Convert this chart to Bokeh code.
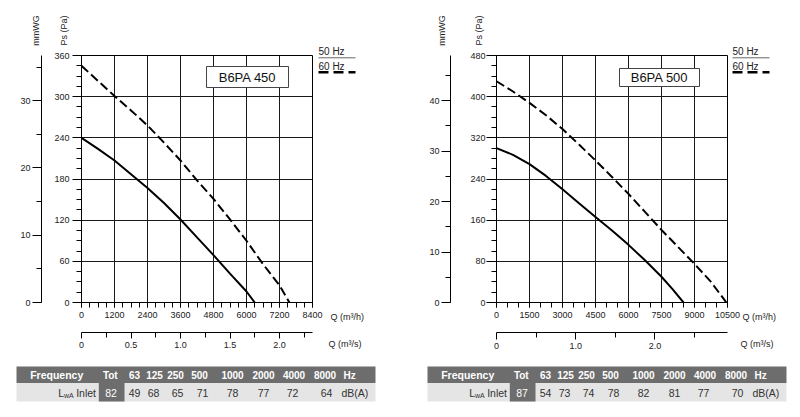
import math
from bokeh.plotting import figure
from bokeh.models import (Range1d, LinearAxis, SingleIntervalTicker, FixedTicker,
                          BoxAnnotation, CustomJSTickFormatter, ColumnDataSource)
from bokeh.layouts import row, column
from bokeh.embed import file_html
from bokeh.resources import INLINE
from bokeh.core.properties import value

FONT = "Liberation Sans"

# ---------------- data ----------------
# B6PA 450
q50_450 = [0, 600, 1200, 1800, 2400, 3000, 3600, 4200, 4800, 5400, 6000, 6300]
p50_450 = [240, 224, 207, 187, 167, 145, 121, 95, 69, 42, 16, 0]
q60_450 = [0, 600, 1200, 1800, 2400, 3000, 3600, 4200, 4800, 5400, 6000, 6600, 7200, 7560]
p60_450 = [345, 323, 301, 280, 258, 233, 207, 178, 151, 121, 90, 56, 25, 0]
# B6PA 500
q50_500 = [0, 750, 1500, 2250, 3000, 3750, 4500, 5250, 6000, 6750, 7500, 8000, 8500]
p50_500 = [300, 287, 269, 246, 220, 193, 166, 140, 112, 82, 50, 26, 0]
q60_500 = [0, 750, 1500, 2250, 3000, 3750, 4500, 5250, 6000, 6750, 7500, 8250, 9000, 9750, 10450]
p60_500 = [430, 410, 388, 364, 337, 307, 276, 244, 211, 176, 141, 108, 75, 40, 0]

freq_bands = ["63", "125", "250", "500", "1000", "2000", "4000", "8000"]
tot_450 = 82
lwa_450 = [49, 68, 65, 71, 78, 77, 72, 64]
tot_500 = 87
lwa_500 = [54, 73, 74, 78, 82, 81, 77, 70]

MMWG_PER_PA = 1 / 9.80665
M3S_PER_M3H = 1 / 3600
TXT = "#222222"


def style_axis(ax, tick_out, minor_out, standoff, size="9px"):
    ax.major_tick_out = tick_out
    ax.major_tick_in = 0
    ax.minor_tick_out = minor_out
    ax.minor_tick_in = 0
    ax.major_label_standoff = standoff
    ax.major_label_text_font = FONT
    ax.major_label_text_font_size = size
    ax.major_label_text_color = TXT
    ax.axis_line_color = "black"
    ax.major_tick_line_color = "black"
    ax.minor_tick_line_color = "black"


def pad_axis(ax, size):
    ax.axis_label = " "
    ax.axis_label_standoff = 0
    ax.axis_label_text_font_size = size


def otext(p, x, y, s, size="9px", align="left", angle=0.0, color=TXT):
    p.text(x=[x], y=[y], text=[s], angle=angle, text_font=value(FONT),
           text_font_size=value(size), text_align=align, text_baseline="middle",
           text_color=color, level="overlay")


def build_chart(W, q50, p50, q60, p60, xmax, ymax, xstep, ystep, xminor,
                qs_major, qs_minor, qs_major_len, model_name, fl, pa_tick, pa_standoff,
                pa_pad, ann):
    H = 358
    ft, fw, fh = 55, 231, 247
    p = figure(width=W, height=H, x_range=Range1d(0, xmax), y_range=Range1d(0, ymax),
               output_backend="svg", toolbar_location=None,
               min_border_left=fl, min_border_right=W - fl - fw,
               min_border_top=ft, min_border_bottom=H - ft - fh)
    p.background_fill_color = "white"
    p.border_fill_color = "white"
    p.outline_line_color = "black"
    p.outline_line_width = 1

    def xd(px):
        return (px - fl) / fw * xmax

    def yd(py):
        return (ft + fh - py) / fh * ymax

    # main axes
    xa = p.xaxis[0]
    xa.ticker = SingleIntervalTicker(interval=xstep, num_minor_ticks=xminor)
    style_axis(xa, 5, 5, 4)
    pad_axis(xa, "7.5px")
    ya = p.yaxis[0]
    ya.ticker = SingleIntervalTicker(interval=ystep, num_minor_ticks=4)
    style_axis(ya, pa_tick, 5, pa_standoff)
    pad_axis(ya, pa_pad)

    p.xgrid.ticker = SingleIntervalTicker(interval=xstep)
    p.ygrid.ticker = SingleIntervalTicker(interval=ystep)
    p.grid.grid_line_color = "#1a1a1a"
    p.grid.grid_line_width = 1
    p.grid.grid_line_alpha = 1

    # secondary axes
    p.extra_y_ranges = {"mm": Range1d(0, ymax * MMWG_PER_PA)}
    mm = LinearAxis(y_range_name="mm", ticker=SingleIntervalTicker(interval=10, num_minor_ticks=2))
    style_axis(mm, 9, 5, 2)
    p.add_layout(mm, "left")

    p.extra_x_ranges = {"qs": Range1d(0, xmax * M3S_PER_M3H)}
    qs = LinearAxis(x_range_name="qs", ticker=FixedTicker(ticks=qs_major, minor_ticks=qs_minor),
                    formatter=CustomJSTickFormatter(code="return tick == 0 ? '0' : tick.toFixed(1);"))
    style_axis(qs, qs_major_len, 5, 3)
    p.add_layout(qs, "below")

    # curves
    p.line(q50, p50, line_width=2, line_color="black")
    p.line(q60, p60, line_width=2, line_color="black", line_dash="9 4")

    # model box
    bx = ann["box"]
    p.add_layout(BoxAnnotation(left=xd(bx[0]), right=xd(bx[1]), top=yd(bx[2]), bottom=yd(bx[3]),
                               fill_color="white", fill_alpha=1, line_color="#444444",
                               line_width=1, line_alpha=1))
    otext(p, xd((bx[0] + bx[1]) / 2), yd((bx[2] + bx[3]) / 2), model_name, size="13px",
          align="center", color="#111111")

    # legend (outside the frame)
    lx0, lx1 = ann["leg_x"]
    otext(p, xd(lx0), yd(51), "50 Hz", size="10px")
    p.segment(x0=[xd(lx0)], y0=[yd(57.3)], x1=[xd(lx1)], y1=[yd(57.3)],
              line_color="#666666", line_width=1, level="overlay")
    otext(p, xd(lx0), yd(65.5), "60 Hz", size="10px")
    p.segment(x0=[xd(lx0)], y0=[yd(71.7)], x1=[xd(lx1)], y1=[yd(71.7)],
              line_color="black", line_width=2.5, line_dash="10 5", level="overlay")

    # axis titles
    otext(p, xd(ann["mm_x"]), yd(30), "mmWG", align="center", angle=math.pi / 2)
    otext(p, xd(ann["pa_x"]), yd(30), "Ps (Pa)", align="center", angle=math.pi / 2)
    otext(p, xd(ann["qh_x"]), yd(316), "Q (m³/h)")
    otext(p, xd(ann["qs_x"]), yd(343), "Q (m³/s)")
    return p


c1 = build_chart(400, q50_450, p50_450, q60_450, p60_450, 8400, 360, 1200, 60, 4,
                 [0, 0.5, 1.0, 1.5, 2.0], [0.25, 0.75, 1.25, 1.75, 2.25], 6,
                 "B6PA 450", 81, 9, 3, "7px",
                 dict(box=(206, 288, 66, 87), leg_x=(318, 355), mm_x=35, pa_x=63.5,
                      qh_x=330, qs_x=328))
c2 = build_chart(399, q50_500, p50_500, q60_500, p60_500, 10500, 480, 1500, 80, 3,
                 [0, 1.0, 2.0], [0.5, 1.5, 2.5], 7,
                 "B6PA 500", 96, 10, 1, "12.5px",
                 dict(box=(219, 299, 68, 86), leg_x=(332, 369), mm_x=41.5, pa_x=78.5,
                      qh_x=342, qs_x=340))

# ---------------- tables ----------------
HDR_BG = "#6d6d6d"
ROW_BG = "#e5e5e5"
TW = 359
hdr_cx = [93.8, 118, 138, 159, 183, 216, 247, 277.5, 308.5]
val_cx = [94.5, 118, 137, 161, 186, 216, 247, 276, 310]
Y_HT, Y_HB, Y_VB = 8.0, 24.5, 43.0
Y_HC, Y_VC = 16.5, 34.0
FS = "10px"


def build_table(W, x0, tot, vals):
    t = figure(width=W, height=52, x_range=Range1d(0, W), y_range=Range1d(52, 0),
               output_backend="svg", toolbar_location=None, min_border=0,
               x_axis_type=None, y_axis_type=None)
    t.outline_line_color = None
    t.background_fill_color = "white"
    t.border_fill_color = "white"
    t.quad(left=[x0], right=[x0 + TW], top=[Y_HT], bottom=[Y_HB], fill_color=HDR_BG, line_color=None)
    t.quad(left=[x0], right=[x0 + TW], top=[Y_HB], bottom=[Y_VB], fill_color=ROW_BG, line_color=None)
    t.quad(left=[x0 + 82.3], right=[x0 + 108], top=[Y_HB], bottom=[Y_VB], fill_color=HDR_BG,
           line_color=None)

    hdr = ColumnDataSource(dict(x=[x0 + c for c in hdr_cx], y=[Y_HC] * 9, t=["Tot"] + freq_bands))
    t.text(x="x", y="y", text="t", source=hdr, text_font=value(FONT), text_font_size=value(FS),
           text_font_style="bold", text_color="white", text_align="center", text_baseline="middle")
    t.text(x=[x0 + 13.7], y=[Y_HC], text=["Frequency"], text_font=value(FONT),
           text_font_size=value("10.5px"), text_font_style="bold", text_color="white",
           text_align="left", text_baseline="middle")
    t.text(x=[x0 + 327], y=[Y_HC], text=["Hz"], text_font=value(FONT),
           text_font_size=value(FS), text_font_style="bold", text_color="white",
           text_align="left", text_baseline="middle")

    t.text(x=[x0 + val_cx[0]], y=[Y_VC], text=[str(tot)], text_font=value(FONT),
           text_font_size=value("10.5px"), text_color="white", text_align="center",
           text_baseline="middle")
    vs = ColumnDataSource(dict(x=[x0 + c for c in val_cx[1:]], y=[Y_VC] * 8, t=[str(v) for v in vals]))
    t.text(x="x", y="y", text="t", source=vs, text_font=value(FONT), text_font_size=value("10.5px"),
           text_color="#333333", text_align="center", text_baseline="middle")
    t.text(x=[x0 + 325], y=[Y_VC], text=["dB(A)"], text_font=value(FONT),
           text_font_size=value("10.5px"), text_color="#333333", text_align="left",
           text_baseline="middle")
    # L_wA Inlet
    t.text(x=[x0 + 79.5], y=[Y_VC], text=["Inlet"], text_font=value(FONT),
           text_font_size=value("10.5px"), text_color="#333333", text_align="right",
           text_baseline="middle")
    t.text(x=[x0 + 47.5], y=[Y_VC + 3], text=["wA"], text_font=value(FONT),
           text_font_size=value("7px"), text_color="#333333", text_align="left",
           text_baseline="middle")
    t.text(x=[x0 + 47.5], y=[Y_VC], text=["L"], text_font=value(FONT),
           text_font_size=value("10.5px"), text_color="#333333", text_align="right",
           text_baseline="middle")
    return t


t1 = build_table(400, 16, tot_450, lwa_450)
t2 = build_table(399, 27, tot_500, lwa_500)

layout = column(row(c1, c2, spacing=0), row(t1, t2, spacing=0), spacing=0)
open("out.html", "w").write(file_html(layout, INLINE))
